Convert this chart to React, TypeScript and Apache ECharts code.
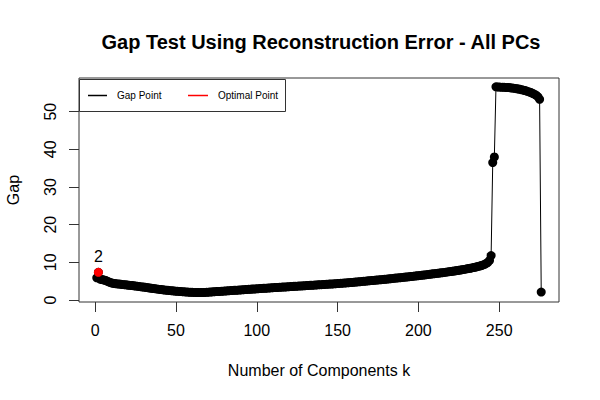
import React, { useEffect, useRef } from "react";
import * as echarts from "echarts";

const chartTitle = "Gap Test Using Reconstruction Error - All PCs";
const xLabel = "Number of Components k";
const yLabel = "Gap";
const legendNames = ["Gap Point", "Optimal Point"];

const xTicks = [0, 50, 100, 150, 200, 250];
const yTicks = [0, 10, 20, 30, 40, 50];

// gap value for k = 1 .. 276
const gapValues = [
  5.9, 7.36, 5.55, 5.45, 5.35, 5.25, 5.1, 4.9, 4.7, 4.55,
  4.45, 4.38, 4.32, 4.27, 4.22, 4.17, 4.12, 4.07, 4.02, 3.97,
  3.92, 3.87, 3.82, 3.77, 3.72, 3.66, 3.6, 3.54, 3.48, 3.42,
  3.36, 3.3, 3.24, 3.18, 3.12, 3.06, 3.0, 2.94, 2.88, 2.82,
  2.76, 2.71, 2.66, 2.61, 2.56, 2.51, 2.47, 2.43, 2.39, 2.35,
  2.31, 2.27, 2.24, 2.21, 2.18, 2.15, 2.12, 2.09, 2.06, 2.04,
  2.02, 2.0, 1.98, 1.97, 1.97, 1.98, 2.0, 2.02, 2.05, 2.08,
  2.11, 2.14, 2.17, 2.2, 2.23, 2.26, 2.29, 2.32, 2.35, 2.38,
  2.41, 2.44, 2.47, 2.5, 2.53, 2.56, 2.59, 2.62, 2.65, 2.68,
  2.71, 2.74, 2.77, 2.8, 2.83, 2.86, 2.89, 2.92, 2.95, 2.98,
  3.01, 3.04, 3.07, 3.09, 3.12, 3.15, 3.18, 3.2, 3.23, 3.26,
  3.29, 3.31, 3.34, 3.37, 3.4, 3.42, 3.45, 3.48, 3.51, 3.53,
  3.56, 3.59, 3.62, 3.64, 3.67, 3.7, 3.73, 3.75, 3.78, 3.81,
  3.84, 3.86, 3.89, 3.92, 3.95, 3.97, 4.0, 4.03, 4.06, 4.08,
  4.11, 4.14, 4.17, 4.19, 4.22, 4.25, 4.28, 4.3, 4.33, 4.36,
  4.4, 4.43, 4.47, 4.5, 4.54, 4.57, 4.61, 4.65, 4.68, 4.72,
  4.76, 4.8, 4.84, 4.88, 4.92, 4.96, 5.0, 5.04, 5.08, 5.12,
  5.16, 5.2, 5.24, 5.28, 5.32, 5.37, 5.41, 5.45, 5.5, 5.54,
  5.58, 5.63, 5.67, 5.72, 5.76, 5.81, 5.85, 5.9, 5.94, 5.99,
  6.04, 6.08, 6.13, 6.18, 6.22, 6.27, 6.32, 6.37, 6.42, 6.47,
  6.52, 6.57, 6.62, 6.67, 6.72, 6.78, 6.83, 6.88, 6.94, 6.99,
  7.05, 7.1, 7.16, 7.21, 7.27, 7.33, 7.39, 7.45, 7.51, 7.57,
  7.63, 7.7, 7.76, 7.83, 7.9, 7.97, 8.04, 8.11, 8.19, 8.27,
  8.35, 8.43, 8.52, 8.61, 8.7, 8.8, 8.91, 9.03, 9.16, 9.31,
  9.48, 9.7, 10.0, 10.5, 11.8, 36.5, 38.0, 56.6, 56.58, 56.55,
  56.52, 56.5, 56.47, 56.45, 56.42, 56.4, 56.35, 56.3, 56.24, 56.18,
  56.1, 56.02, 55.93, 55.83, 55.72, 55.6, 55.47, 55.33, 55.18, 55.01,
  54.82, 54.6, 54.33, 53.95, 53.3, 2.1,
];

const optimalK = 2;
const optimalGap = 7.36;

const FONT = "'Liberation Sans', Arial, Helvetica, sans-serif";

export default function App() {
  const ref = useRef<HTMLDivElement>(null);

  useEffect(() => {
    if (!ref.current) return;
    const chart = echarts.init(ref.current, null, { renderer: "svg" });
    const gapData = gapValues.map((v, i) => [i + 1, v]);

    chart.setOption({
      animation: false,
      backgroundColor: "#ffffff",
      textStyle: { fontFamily: FONT },
      grid: {
        left: 79,
        right: 41,
        top: 78,
        bottom: 98,
        show: true,
        borderColor: "#333",
        borderWidth: 1,
        backgroundColor: "transparent",
      },
      xAxis: {
        type: "value",
        min: -10,
        max: 287,
        axisLine: { show: false, onZero: false },
        splitLine: { show: false },
        axisTick: {
          show: true,
          inside: false,
          length: 10,
          customValues: xTicks,
          lineStyle: { color: "#333", width: 1 },
        },
        axisLabel: {
          customValues: xTicks,
          margin: 20,
          fontSize: 16,
          color: "#000",
          fontFamily: FONT,
        },
      },
      yAxis: {
        type: "value",
        min: -0.53,
        max: 58.95,
        axisLine: { show: false, onZero: false },
        splitLine: { show: false },
        axisTick: {
          show: true,
          inside: false,
          length: 10,
          customValues: yTicks,
          lineStyle: { color: "#333", width: 1 },
        },
        axisLabel: {
          customValues: yTicks,
          rotate: 90,
          margin: 21,
          fontSize: 16,
          color: "#000",
          fontFamily: FONT,
        },
      },
      series: [
        {
          name: legendNames[0],
          type: "line",
          data: gapData,
          showSymbol: true,
          showAllSymbol: true,
          symbol: "circle",
          symbolSize: 9,
          itemStyle: { color: "#000", opacity: 1 },
          lineStyle: { color: "#000", width: 1 },
          clip: false,
          z: 2,
        },
        {
          name: legendNames[1],
          type: "scatter",
          data: [[optimalK, optimalGap]],
          symbol: "circle",
          symbolSize: 9,
          itemStyle: { color: "#ff0000", opacity: 1 },
          label: {
            show: true,
            position: "top",
            distance: 3,
            formatter: (p: any) => String(p.value[0]),
            fontSize: 16,
            color: "#000",
            fontFamily: FONT,
          },
          z: 3,
        },
      ],
      graphic: [
        {
          type: "text",
          x: 321,
          y: 41.5,
          style: {
            text: chartTitle,
            font: `bold 20px ${FONT}`,
            fill: "#000",
            textAlign: "center",
            textVerticalAlign: "middle",
          },
        },
        {
          type: "text",
          x: 319,
          y: 370,
          style: {
            text: xLabel,
            font: `16px ${FONT}`,
            fill: "#000",
            textAlign: "center",
            textVerticalAlign: "middle",
          },
        },
        {
          type: "text",
          x: 13,
          y: 190,
          rotation: Math.PI / 2,
          style: {
            text: yLabel,
            font: `16px ${FONT}`,
            fill: "#000",
            textAlign: "center",
            textVerticalAlign: "middle",
          },
        },
        {
          type: "group",
          z: 10,
          children: [
            {
              type: "rect",
              shape: { x: 79.5, y: 79.5, width: 206, height: 32 },
              style: { fill: "#fff", stroke: "#333", lineWidth: 1 },
            },
            {
              type: "line",
              shape: { x1: 88, y1: 95.5, x2: 107, y2: 95.5 },
              style: { stroke: "#000", lineWidth: 1.5 },
            },
            {
              type: "text",
              x: 117,
              y: 95.5,
              style: {
                text: legendNames[0],
                font: `10px ${FONT}`,
                fill: "#000",
                textVerticalAlign: "middle",
              },
            },
            {
              type: "line",
              shape: { x1: 188, y1: 95.5, x2: 208, y2: 95.5 },
              style: { stroke: "#ff0000", lineWidth: 1.5 },
            },
            {
              type: "text",
              x: 218,
              y: 95.5,
              style: {
                text: legendNames[1],
                font: `10px ${FONT}`,
                fill: "#000",
                textVerticalAlign: "middle",
              },
            },
          ],
        },
      ],
    });

    return () => chart.dispose();
  }, []);

  return (
    <div
      ref={ref}
      style={{ position: "fixed", left: 0, top: 0, width: 600, height: 400 }}
    />
  );
}
